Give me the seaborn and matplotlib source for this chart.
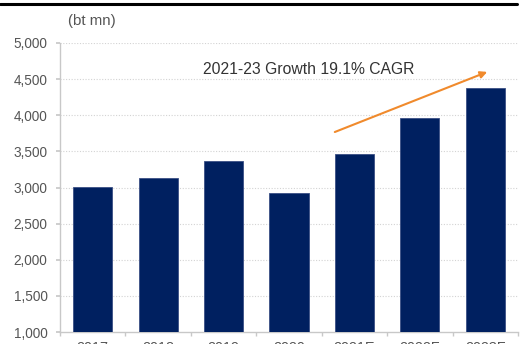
import matplotlib
matplotlib.use("Agg")
import matplotlib.pyplot as plt
import seaborn as sns
import pandas as pd

years = ["2017", "2018", "2019", "2020", "2021E", "2022F", "2023F"]
values = [3010, 3125, 3360, 2920, 3460, 3960, 4380]
y_ticks = [1000, 1500, 2000, 2500, 3000, 3500, 4000, 4500, 5000]
unit_label = "(bt mn)"
annotation = "2021-23 Growth 19.1% CAGR"

sns.set_theme(style="white")
plt.rcParams["font.family"] = ["Liberation Sans", "DejaVu Sans"]

df = pd.DataFrame({"year": years, "value": values})

fig = plt.figure(figsize=(5.29, 3.44), dpi=100)
ax = fig.add_axes([60 / 529, 1 - 332 / 344, (518 - 60) / 529, (332 - 43) / 344])

sns.barplot(data=df, x="year", y="value", color="#002060", width=0.6,
            saturation=1, ax=ax, edgecolor="#3a4f85", linewidth=0.6, zorder=3)

ax.set_ylim(1000, 5000)
ax.set_xlim(-0.5, len(years) - 0.5)
ax.set_yticks(y_ticks)
ax.set_yticklabels([f"{v:,}" for v in y_ticks])
ax.set_xlabel("")
ax.set_ylabel("")

for v in y_ticks[1:]:
    ax.axhline(v, color="#d3d3d3", lw=0.8, ls=(0, (1, 1.5)), zorder=1)

for s in ["top", "right"]:
    ax.spines[s].set_visible(False)
for s in ["left", "bottom"]:
    ax.spines[s].set_color("#c8c8c8")
    ax.spines[s].set_linewidth(1.0)

ax.tick_params(axis="y", left=True, length=3, color="#c8c8c8", labelsize=9.8,
               labelcolor="#555555", pad=6)
ax.set_xticks(range(len(years)))
ax.set_xticklabels(years)
ax.set_xticks([i - 0.5 for i in range(len(years) + 1)], minor=True)
ax.tick_params(axis="x", which="major", bottom=False, length=0, labelsize=10.4,
               labelcolor="#555555", pad=6.5)
ax.tick_params(axis="x", which="minor", bottom=True, length=3, color="#c8c8c8")

fig.text(68 / 529, 1 - 21 / 344, unit_label, fontsize=10.8, color="#555555",
         va="center", ha="left")
fig.text(203 / 529, 1 - 70 / 344, annotation, fontsize=11.3, color="#333333",
         va="center", ha="left")

ax.annotate("", xy=(6.03, 4600), xytext=(3.70, 3768),
            xycoords="data",
            arrowprops=dict(arrowstyle="-|>", color="#f08a2c", lw=1.5,
                            mutation_scale=10, shrinkA=0, shrinkB=0))

fig.add_artist(plt.Line2D([0, 517 / 529], [1 - 3.5 / 344, 1 - 3.5 / 344],
                          color="black", lw=2.2, transform=fig.transFigure))

fig.savefig("out.png", dpi=100)
